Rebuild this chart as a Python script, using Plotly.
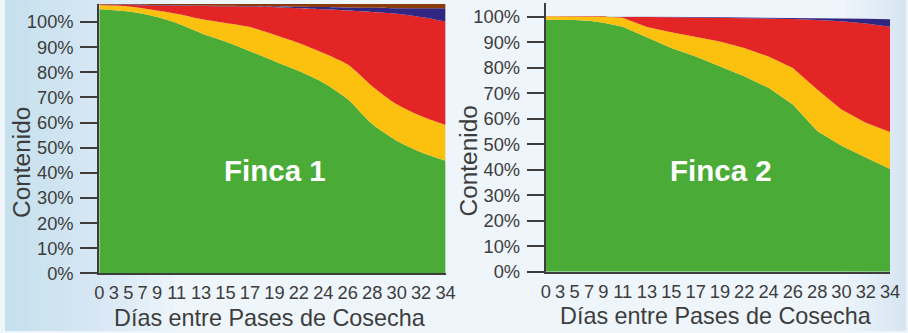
import plotly.graph_objects as go

# Reference frame of the layout (pixels) and the canvas size used to draw it
REF_W, REF_H = 908, 333
W, H = 916, 341
SX, SY = W / REF_W, H / REF_H      # canvas pixels per layout pixel
FS = (SX + SY) / 2                 # font scale

# Harvest-pass interval (days) shown on the x axis
dias = ["0", "3", "5", "7", "9", "11", "13", "15", "17", "19",
        "22", "24", "26", "28", "30", "32", "34"]

# Finca 1 - content (%) per class, stacked bottom to top
f1_verde = [105.1, 104.7, 104.2, 103.3, 102.0, 99.6, 95.6, 92.3, 88.4,
            84.4, 80.5, 75.9, 69.3, 59.4, 52.8, 48.2, 44.8]
f1_amarillo = [1.7, 1.9, 2.0, 2.2, 2.6, 3.7, 5.6, 7.3, 9.6,
               10.6, 11.2, 11.8, 13.8, 15.1, 14.5, 14.4, 14.2]
f1_rojo = [0.2, 0.3, 0.6, 1.2, 2.0, 3.2, 5.2, 6.7, 8.2,
           10.9, 13.8, 17.4, 21.5, 29.5, 36.0, 39.4, 41.2]
f1_azul = [0.0, 0.1, 0.15, 0.2, 0.2, 0.2, 0.2, 0.2, 0.2,
           0.4, 0.6, 0.9, 1.2, 1.7, 2.2, 3.5, 5.3]
f1_cafe = [0.2, 0.2, 0.25, 0.3, 0.4, 0.5, 0.6, 0.7, 0.8,
           0.9, 1.1, 1.2, 1.4, 1.5, 1.7, 1.7, 1.7]

# Finca 2 - content (%) per class, stacked bottom to top
f2_verde = [98.8, 98.8, 98.7, 98.4, 97.6, 96.1, 92.0, 87.7, 84.4,
            80.5, 76.6, 72.1, 65.6, 55.2, 49.4, 44.8, 40.3]
f2_amarillo = [1.3, 1.3, 1.4, 1.7, 2.5, 3.5, 4.0, 6.2, 7.8,
               9.8, 11.1, 12.3, 14.3, 16.2, 14.2, 13.6, 14.5]
f2_rojo = [0.0, 0.0, 0.0, 0.0, 0.0, 0.4, 3.9, 5.9, 7.5,
           9.3, 11.8, 14.9, 19.2, 27.3, 34.6, 38.9, 41.3]
f2_azul = [0.0, 0.0, 0.0, 0.0, 0.0, 0.0, 0.05, 0.1, 0.15,
           0.2, 0.25, 0.4, 0.5, 0.8, 1.2, 1.9, 2.9]

y_ticks = list(range(0, 101, 10))
y_ticktext = [f"{v}%" for v in y_ticks]

COLORS = {
    "verde": "#4aab37",
    "amarillo": "#fcc00e",
    "rojo": "#e42525",
    "azul": "#312783",
    "cafe": "#8b3a0c",
}
INK = "#3d3d3d"
FONT = "Liberation Sans, Arial, sans-serif"


def label_positions(labels, gap=0.45):
    """Place labels like running text: each one a digit-width apart plus a gap."""
    pos = [0.0]
    for a, b in zip(labels[:-1], labels[1:]):
        pos.append(pos[-1] + (len(a) + len(b)) / 2 + gap)
    return pos


xpos = label_positions(dias)


def px_x(p):
    return p / REF_W


def px_y(p):
    return 1 - p / REF_H


def fs(size):
    return round(size * FS, 1)


fig = go.Figure()

panels = [
    ("x", "y", "f1", [("verde", f1_verde), ("amarillo", f1_amarillo),
                      ("rojo", f1_rojo), ("azul", f1_azul), ("cafe", f1_cafe)],
     "spline"),
    ("x2", "y2", "f2", [("verde", f2_verde), ("amarillo", f2_amarillo),
                        ("rojo", f2_rojo), ("azul", f2_azul)],
     "linear"),
]

for xa, ya, grp, series, shape in panels:
    for name, vals in series:
        line = dict(width=0, shape=shape)
        if shape == "spline":
            line["smoothing"] = 0.7
        fig.add_trace(go.Scatter(
            x=xpos, y=vals, xaxis=xa, yaxis=ya, stackgroup=grp,
            mode="lines", line=line, fillcolor=COLORS[name],
            name=name, showlegend=False, hoverinfo="skip",
        ))

axis_common_x = dict(
    range=[xpos[0], xpos[-1]], tickmode="array", tickvals=xpos, ticktext=dias,
    showline=True, linecolor=INK, linewidth=2, ticks="", showgrid=False,
    zeroline=False, tickfont=dict(family=FONT, size=fs(18), color=INK),
    ticklabelstandoff=2, fixedrange=True,
)
axis_common_y = dict(
    tickmode="array", tickvals=y_ticks, ticktext=y_ticktext,
    showline=True, linecolor=INK, linewidth=2, ticks="outside",
    ticklen=round(17 * SX), tickwidth=2, tickcolor=INK, showgrid=False,
    zeroline=False, tickfont=dict(family=FONT, size=fs(18), color=INK),
    ticklabelstandoff=3, fixedrange=True,
)

# Plot-area placement (layout pixels) for each panel
p1 = dict(l=95, r=444, t=4, b=275, top=107.2)
p2 = dict(l=545, r=892, t=2.7, b=273.3, top=105.5)

fig.update_layout(
    width=W, height=H,
    margin=dict(l=0, r=0, t=0, b=0),
    paper_bgcolor="#eef5fb",
    plot_bgcolor="rgba(0,0,0,0)",
    xaxis=dict(domain=[px_x(p1["l"]), px_x(p1["r"])], anchor="y", **axis_common_x),
    yaxis=dict(domain=[px_y(p1["b"]), px_y(p1["t"])], anchor="x",
               range=[0, p1["top"]], **axis_common_y),
    xaxis2=dict(domain=[px_x(p2["l"]), px_x(p2["r"])], anchor="y2", **axis_common_x),
    yaxis2=dict(domain=[px_y(p2["b"]), px_y(p2["t"])], anchor="x2",
                range=[0, p2["top"]], **axis_common_y),
)

# Soft blue background wash, stronger at the left edge
shapes = []
steps = 14
for i in range(steps):
    x1 = 170 * (1 - i / steps)
    shapes.append(dict(type="rect", xref="paper", yref="paper",
                       x0=0, x1=px_x(x1), y0=0, y1=1, layer="below",
                       line=dict(width=0), fillcolor="rgba(170,205,235,0.045)"))
for i in range(8):
    x0 = REF_W - 60 * (1 - i / 8)
    shapes.append(dict(type="rect", xref="paper", yref="paper",
                       x0=px_x(x0), x1=1, y0=0, y1=1, layer="below",
                       line=dict(width=0), fillcolor="rgba(170,205,235,0.035)"))
fig.update_layout(shapes=shapes)

annotations = [
    dict(text="Contenido", x=px_x(16), y=px_y(163), textangle=-90,
         font=dict(family=FONT, size=fs(24), color=INK)),
    dict(text="Contenido", x=px_x(467), y=px_y(162), textangle=-90,
         font=dict(family=FONT, size=fs(24), color=INK)),
    dict(text="Días entre Pases de Cosecha", x=px_x(267), y=px_y(320),
         font=dict(family=FONT, size=fs(23), color=INK)),
    dict(text="Días entre Pases de Cosecha", x=px_x(717), y=px_y(318),
         font=dict(family=FONT, size=fs(23), color=INK)),
    dict(text="<b>Finca 1</b>", x=px_x(272), y=px_y(172),
         font=dict(family=FONT, size=fs(29), color="white")),
    dict(text="<b>Finca 2</b>", x=px_x(722), y=px_y(172),
         font=dict(family=FONT, size=fs(29), color="white")),
]
for a in annotations:
    a.update(xref="paper", yref="paper", xanchor="center", yanchor="middle",
             showarrow=False)
fig.update_layout(annotations=annotations)

fig.write_html("out.html")
